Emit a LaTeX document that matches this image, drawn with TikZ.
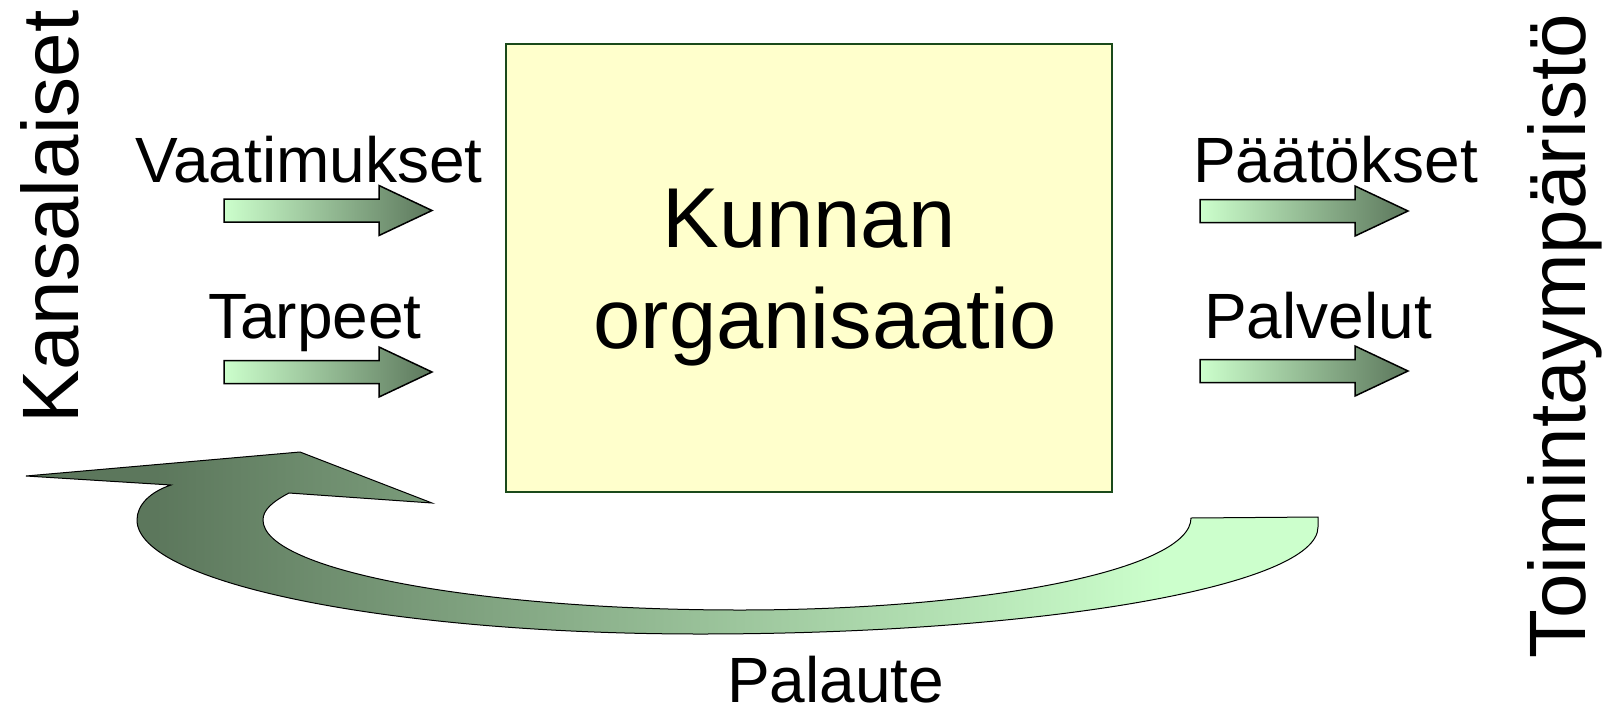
\documentclass[tikz,border=0pt]{standalone}
\usepackage{fontspec}
\setmainfont{Liberation Sans}
\definecolor{ltg}{HTML}{CCFFCC}
\definecolor{dkg}{HTML}{5C775C}
\definecolor{boxfill}{HTML}{FFFFCC}
\definecolor{boxline}{HTML}{1A4A1A}
\pgfdeclarehorizontalshading{bandshade}{100bp}{color(0bp)=(dkg); color(30bp)=(dkg); color(69bp)=(ltg); color(100bp)=(ltg)}
\tikzset{
  lbl/.style={anchor=base west, inner sep=0pt, text depth=0pt, font=\fontsize{64}{70}\selectfont},
  side/.style={anchor=base west, inner sep=0pt, rotate=90, font=\fontsize{80}{90}\selectfont},
  big/.style={anchor=base, inner sep=0pt, font=\fontsize{85}{100}\selectfont},
  fatarrow/.pic={\path[draw=black, line width=1.5, left color=ltg, right color=dkg]
     (0,-11.5) -- (155,-11.5) -- (155,-25) -- (208,0) -- (155,25) -- (155,11.5) -- (0,11.5) -- cycle;}
}
\begin{document}
\begin{tikzpicture}[x=1pt,y=-1pt]
\useasboundingbox (0,0) rectangle (1608,712);
% central box
\node[draw=boxline, line width=2, fill=boxfill, minimum width=606, minimum height=448, inner sep=0, anchor=north west] (org) at (505,43) {};
\node[big] (kunnan) at (809,247) {Kunnan};
\node[big] (organisaatio) at (825,348) {organisaatio};
% side labels
\node[side] (kansalaiset) at (78,424) {Kansalaiset};
\node[side] (toiminta) at (1585,659) {Toimintaympäristö};
% arrow labels
\node[lbl] (vaat) at (135,182) {Vaatimukset};
\node[lbl] (tarp) at (208,338) {Tarpeet};
\node[lbl] (paat) at (1193,182) {Päätökset};
\node[lbl] (palv) at (1204,338) {Palvelut};
\node[lbl] (palaute) at (727,702) {Palaute};
% straight arrows
\pic (a1) at (224,210.5) {fatarrow};
\pic (a2) at (224,372) {fatarrow};
\pic (a3) at (1200,211) {fatarrow};
\pic (a4) at (1200,371) {fatarrow};
% feedback band
\path[draw=black, line width=1, shading=bandshade]
  (26,476) -- (300,452) -- (432,503) -- (289,493)
  .. controls (272,502) and (263,510) .. (263,520)
  .. controls (263,570) and (477,610) .. (740,610)
  .. controls (989,610) and (1191,569) .. (1191,518)
  -- (1318,517) -- (1318,527)
  .. controls (1318,586) and (1041,634) .. (700,634)
  .. controls (389,634) and (137,583) .. (137,520)
  .. controls (137,505) and (150,492) .. (171,485) -- cycle;
\end{tikzpicture}
\end{document}
